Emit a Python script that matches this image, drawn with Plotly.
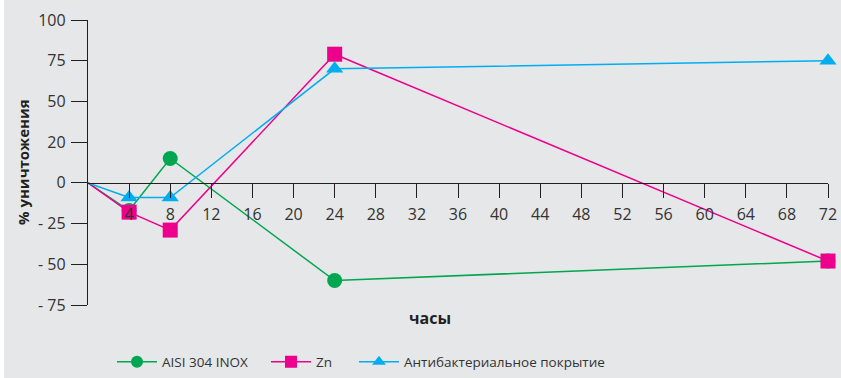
import plotly.graph_objects as go

# Hours of exposure
hours = [0, 4, 8, 24, 72]

# Kill rate, % per surface type
aisi = [0, -17, 15, -60, -48]
zinc = [0, -18, -29, 79, -48]
antibac = [0, -9, -9, 70, 75]

series_names = ["AISI 304 INOX", "Zn", "Антибактериальное покрытие"]
series_colors = ["#00a650", "#ec008c", "#00aeef"]
series_symbols = ["circle", "square", "triangle-up"]

x_ticks = list(range(4, 73, 4))
y_ticks = [100, 75, 50, 25, 0, -25, -50, -75]
y_tick_labels = ["100", "75", "50", "20", "0", "- 25", "- 50", "- 75"]

W, H = 841, 378
ML, MR, MT, MB = 88, 13, 20, 73
PW = W - ML - MR
PH = H - MT - MB

FONT = "Open Sans"
TEXT_COLOR = "#333333"
BG = "#e6e7e8"

fig = go.Figure()

legend_px = [117, 271, 359]
legend_keys = ["legend", "legend2", "legend3"]

for vals, name, color, sym, lk in zip([aisi, zinc, antibac], series_names,
                                      series_colors, series_symbols, legend_keys):
    fig.add_trace(go.Scatter(
        x=hours, y=vals, name=name, mode="lines+markers",
        line=dict(color=color, width=1.5),
        marker=dict(color=color, symbol=sym, size=[0, 15, 15, 15, 15],
                    opacity=1, line=dict(width=0)),
        cliponaxis=False, legend=lk,
    ))

layout_legends = {}
for lk, px in zip(legend_keys, legend_px):
    layout_legends[lk] = dict(
        x=(px - ML - 5) / PW, y=(H - 362 - MB) / PH, xanchor="left", yanchor="middle",
        orientation="h", bgcolor="rgba(0,0,0,0)", borderwidth=0,
        font=dict(family=FONT, size=13.5, color=TEXT_COLOR),
        itemwidth=40, tracegroupgap=0, itemclick=False,
    )

fig.update_layout(
    width=W, height=H,
    margin=dict(l=ML, r=MR, t=MT, b=MB, pad=0, autoexpand=False),
    paper_bgcolor=BG, plot_bgcolor=BG,
    showlegend=True,
    font=dict(family=FONT, size=16, color=TEXT_COLOR),
    xaxis=dict(
        range=[0, 72], tickvals=x_ticks, ticktext=[str(v) for v in x_ticks],
        showgrid=False, zeroline=False, showline=True, linecolor="#231f20",
        linewidth=1.3, ticks="outside", ticklen=14, tickwidth=1.3,
        tickcolor="#231f20", anchor="free", position=75 / 175,
        ticklabelstandoff=3,
        tickfont=dict(family=FONT, size=16, color=TEXT_COLOR),
    ),
    yaxis=dict(
        range=[-75, 100], tickvals=y_ticks, ticktext=y_tick_labels,
        showgrid=False, zeroline=False, showline=True, linecolor="#231f20",
        linewidth=1.3, ticks="outside", ticklen=16, tickwidth=1.3,
        tickcolor="#231f20", ticklabelstandoff=2,
        tickfont=dict(family=FONT, size=16, color=TEXT_COLOR),
    ),
    annotations=[
        dict(text="<b>часы</b>", xref="paper", yref="paper",
             x=(430 - ML) / PW, y=(H - 318 - MB) / PH,
             xanchor="center", yanchor="middle",
             showarrow=False, font=dict(family=FONT, size=16, color="#231f20")),
        dict(text="<b>% уничтожения</b>", xref="paper", yref="paper",
             x=(23 - ML) / PW, y=(H - 162 - MB) / PH, textangle=-90,
             xanchor="center", yanchor="middle",
             showarrow=False, font=dict(family=FONT, size=15, color="#231f20")),
    ],
    shapes=[
        dict(type="rect", xref="paper", yref="paper",
             x0=-ML / PW, x1=(4 - ML) / PW, y0=-MB / PH, y1=(H - MB) / PH,
             fillcolor="white", line=dict(width=0), layer="below"),
    ],
    **layout_legends,
)

fig.write_html("out.html")
